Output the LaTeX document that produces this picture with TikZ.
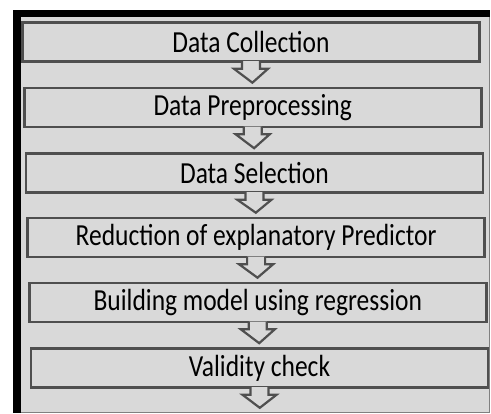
\documentclass[tikz,border=0pt]{standalone}
\usepackage{fontspec}
\setmainfont{Carlito}
\usepackage{graphicx}
\usepackage{tikz}
\usetikzlibrary{calc}
\definecolor{panelgray}{HTML}{D9D9D9}
\definecolor{edgegray}{HTML}{4F4F4F}
\tikzset{
  stagebox/.style={draw=edgegray,line width=2.6pt,fill=panelgray,minimum width=457pt,minimum height=39pt,inner sep=0pt,font=\fontsize{25.5}{28}\selectfont},
  flowarrow/.style={draw=edgegray,line width=2.2pt,fill=panelgray,line join=miter}
}
\newcommand{\stagetext}[1]{\scalebox{1}[1.2]{#1}}
\newcommand{\stagearrow}[2]{%
  \filldraw[flowarrow] ([xshift=-9pt,yshift=1.6pt]#1.south) -- ([xshift=-9pt,yshift=-6pt]#1.south)
    -- ([xshift=-17pt,yshift=-6pt]#1.south) -- (#2)
    -- ([xshift=17pt,yshift=-6pt]#1.south) -- ([xshift=9pt,yshift=-6pt]#1.south)
    -- ([xshift=9pt,yshift=1.6pt]#1.south);}

\begin{document}
\begin{tikzpicture}[x=1pt,y=-1pt]
      \useasboundingbox[fill=white] (0,0) rectangle (491,414);
      % frame
      \fill[panelgray] (13,10) rectangle (490,413);
      \draw[gray,line width=1pt] (489.5,17) -- (489.5,412.5) -- (20,412.5);
      \fill[black] (13,10) rectangle (490,17.5);
      \fill[black] (13,10) rectangle (20.5,413);
      % stages
      \node[stagebox] (collect) at (251,42) {\stagetext{Data Collection}};
      \node[stagebox] (prep) at (252.7,107.5) {\stagetext{Data Preprocessing}};
      \node[stagebox] (select) at (254.4,173) {\stagetext{Data Selection}};
      \node[stagebox] (reduce) at (256.1,237.5) {\stagetext{Reduction of explanatory Predictor}};
      \node[stagebox] (regress) at (257.8,302.5) {\stagetext{Building model using regression}};
      \node[stagebox] (valid) at (259.5,368) {\stagetext{Validity check}};
      \coordinate (exit) at ($(valid.south)+(0.3,19)$);
      % arrows
      \stagearrow{collect}{$(prep.north)+(-0.3,-4)$}
      \stagearrow{prep}{$(select.north)+(-0.3,-4)$}
      \stagearrow{select}{$(reduce.north)+(-0.3,-4)$}
      \stagearrow{reduce}{$(regress.north)+(-0.3,-4)$}
      \stagearrow{regress}{$(valid.north)+(-0.3,-4)$}
      \stagearrow{valid}{exit}
\end{tikzpicture}
\end{document}
